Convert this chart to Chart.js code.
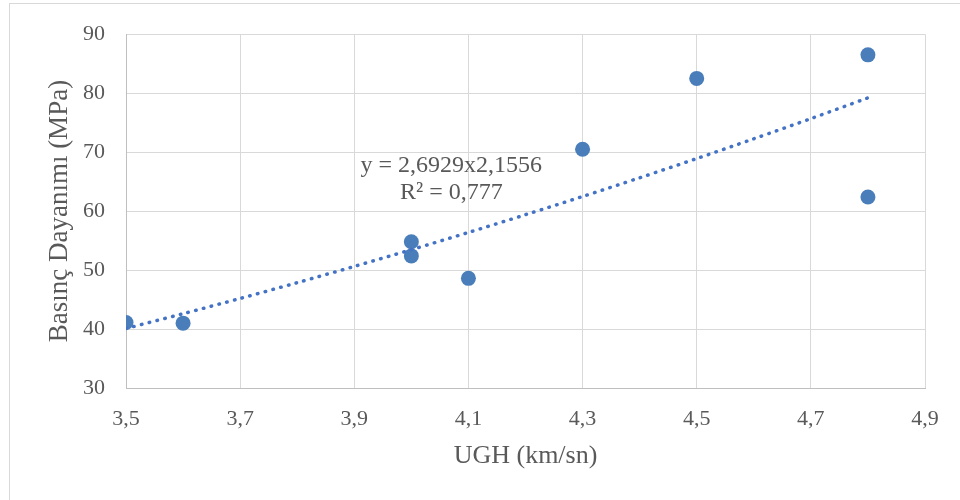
<!DOCTYPE html>
<html>
<head>
<meta charset="utf-8">
<script src="https://cdn.jsdelivr.net/npm/chart.js@4"></script>
<style>
  html, body { margin: 0; padding: 0; background: #fff; }
  #wrap { position: relative; width: 960px; height: 500px; overflow: hidden; }
  #frame { position: absolute; left: 9px; top: 3px; width: 1000px; height: 600px; border: 1px solid #d9d9d9; }
  canvas { position: absolute; left: 0; top: 0; }
</style>
</head>
<body>
<div id="wrap">
  <div id="frame"></div>
  <canvas id="c" width="960" height="500"></canvas>
</div>
<script>
// measured points (UGH km/sn, compressive strength MPa)
const ugh = [3.5, 3.6, 4.0, 4.0, 4.1, 4.3, 4.5, 4.8, 4.8];
const strength = [41.1, 41.0, 54.8, 52.4, 48.6, 70.5, 82.5, 86.5, 62.4];

// power trendline as drawn on the picture
const trendX = [3.5, 3.6, 3.7, 3.8, 3.9, 4.0, 4.1, 4.2, 4.3, 4.4, 4.5, 4.6, 4.7, 4.8];
const trendY = [40.09, 42.60, 45.19, 47.86, 50.62, 53.46, 56.38, 59.39, 62.48, 65.65, 68.91, 72.26, 75.68, 79.20];

const xTicks = [3.5, 3.7, 3.9, 4.1, 4.3, 4.5, 4.7, 4.9];
const yTicks = [30, 40, 50, 60, 70, 80, 90];

const eqLines = ['y = 2,6929x2,1556', 'R² = 0,777'];
const eqAnchor = [4.07, 67.7];

const textColor = '#595959';
const fontFamily = '"Liberation Serif", "Times New Roman", serif';

const eqLabel = {
    id: 'eqLabel',
    afterDatasetsDraw(chart) {
        const ctx = chart.ctx;
        const x = chart.scales.x.getPixelForValue(eqAnchor[0]);
        const y = chart.scales.y.getPixelForValue(eqAnchor[1]);
        ctx.save();
        ctx.font = '24px ' + fontFamily;
        ctx.fillStyle = textColor;
        ctx.textAlign = 'center';
        ctx.textBaseline = 'middle';
        eqLines.forEach((t, i) => ctx.fillText(t, x, y + i * 27));
        ctx.restore();
    }
};

const fmt = v => Number(v).toFixed(1).replace('.', ',');

new Chart(document.getElementById('c'), {
    type: 'scatter',
    data: {
        datasets: [{
            label: 'trend',
            type: 'line',
            data: trendX.map((x, i) => ({ x: x, y: trendY[i] })),
            borderColor: '#4472c4',
            borderWidth: 3.5,
            borderDash: [0.5, 7.5],
            borderCapStyle: 'round',
            pointRadius: 0,
            tension: 0.3,
            fill: false,
            order: 1
        }, {
            label: 'points',
            data: ugh.map((x, i) => ({ x: x, y: strength[i] })),
            backgroundColor: '#4a7ebb',
            borderWidth: 0,
            pointRadius: 7.5,
            order: 2
        }]
    },
    options: {
        responsive: false,
        animation: false,
        layout: { padding: { left: 40, top: 32, right: 35, bottom: 28 } },
        plugins: {
            legend: { display: false },
            tooltip: { enabled: false }
        },
        scales: {
            x: {
                type: 'linear',
                min: 3.5,
                max: 4.9,
                afterBuildTicks: s => { s.ticks = xTicks.map(v => ({ value: v })); },
                afterFit: s => { s.height = 472 - 388; },
                grid: { color: '#d9d9d9', drawTicks: false },
                border: { color: '#bfbfbf' },
                ticks: {
                    color: textColor,
                    font: { family: fontFamily, size: 22 },
                    padding: 18,
                    callback: v => fmt(v)
                },
                title: {
                    display: true,
                    text: 'UGH (km/sn)',
                    color: textColor,
                    font: { family: fontFamily, size: 26 },
                    padding: { top: 4, bottom: 0 }
                }
            },
            y: {
                min: 30,
                max: 90,
                afterBuildTicks: s => { s.ticks = yTicks.map(v => ({ value: v })); },
                afterFit: s => { s.width = 126 - 40; },
                grid: { color: '#d9d9d9', drawTicks: false },
                border: { color: '#bfbfbf' },
                ticks: {
                    color: textColor,
                    font: { family: fontFamily, size: 22 },
                    padding: 21
                },
                title: {
                    display: true,
                    text: 'Basınç Dayanımı (MPa)',
                    color: textColor,
                    font: { family: fontFamily, size: 27 },
                    padding: { top: 4, bottom: 0 }
                }
            }
        }
    },
    plugins: [eqLabel]
});
</script>
</body>
</html>
